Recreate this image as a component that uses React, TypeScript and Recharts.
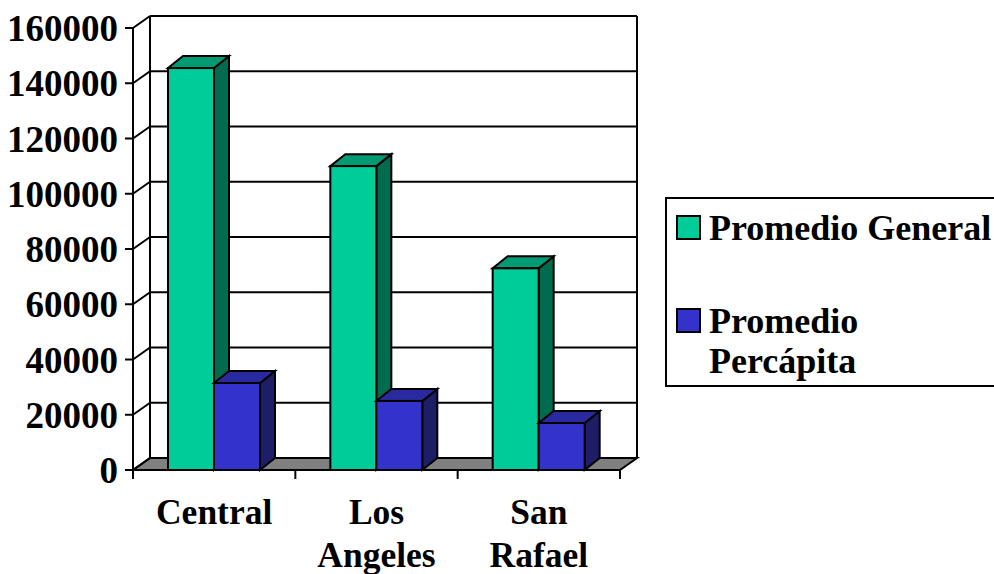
import React from 'react';
import { BarChart, Bar, XAxis, YAxis, CartesianGrid, Legend } from 'recharts';

const sedes = ['Central', 'Los Angeles', 'San Rafael'];
const promedioGeneral = [145500, 110000, 73000];
const promedioPercapita = [31500, 25000, 17000];
const yTicks = [0, 20000, 40000, 60000, 80000, 100000, 120000, 140000, 160000];

const data = sedes.map((sede, i) => ({
  sede,
  general: promedioGeneral[i],
  percapita: promedioPercapita[i],
}));

const FONT = '"Liberation Serif", "Times New Roman", serif';

// depth of the walls/floor and of each bar
const WALL_DX = 17;
const WALL_DY = 12;
const BAR_DX = 15;
const BAR_DY = 12;

const GREEN = { front: '#00CC99', top: '#009A73', side: '#006B4F' };
const BLUE = { front: '#3333CC', top: '#2A2AA0', side: '#1E1E66' };

let floorY = 0;

const box3D = (c: { front: string; top: string; side: string }) => (props: any) => {
  const { x, y, width: w, height: h } = props;
  if (w == null || h == null) return null;
  return (
    <g stroke="#000" strokeWidth={2} strokeLinejoin="miter">
      <polygon
        points={`${x + w},${y} ${x + w + BAR_DX},${y - BAR_DY} ${x + w + BAR_DX},${y + h - BAR_DY} ${x + w},${y + h}`}
        fill={c.side}
      />
      <polygon
        points={`${x},${y} ${x + BAR_DX},${y - BAR_DY} ${x + w + BAR_DX},${y - BAR_DY} ${x + w},${y}`}
        fill={c.top}
      />
      <rect x={x} y={y} width={w} height={h} fill={c.front} />
    </g>
  );
};

// each horizontal grid line becomes a left-wall diagonal plus a back-wall line;
// the bottom one also draws the floor, the top one the back wall edges
const wallLine = (props: any) => {
  const { x1, y1, x2, index, y, height } = props;
  const bottom = typeof height === 'number' && typeof y === 'number' ? y + height : floorY;
  const top = typeof y === 'number' ? y : y1;
  const isFloor = Math.abs(y1 - bottom) < 1;
  const isTop = Math.abs(y1 - top) < 1;
  if (isFloor) floorY = y1;
  const ln = { stroke: '#000', strokeWidth: 2 };
  return (
    <g key={`wall-${index}`}>
      {isFloor && (
        <polygon
          points={`${x1},${y1} ${x2},${y1} ${x2 + WALL_DX},${y1 - WALL_DY} ${x1 + WALL_DX},${y1 - WALL_DY}`}
          fill="#808080"
          {...ln}
        />
      )}
      <line x1={x1} y1={y1} x2={x1 + WALL_DX} y2={y1 - WALL_DY} {...ln} />
      <line x1={x1 + WALL_DX} y1={y1 - WALL_DY} x2={x2 + WALL_DX} y2={y1 - WALL_DY} {...ln} />
      {isTop && (
        <>
          <line x1={x1 + WALL_DX} y1={y1 - WALL_DY} x2={x1 + WALL_DX} y2={bottom - WALL_DY} {...ln} />
          <line x1={x2 + WALL_DX} y1={y1 - WALL_DY} x2={x2 + WALL_DX} y2={bottom - WALL_DY} {...ln} />
        </>
      )}
    </g>
  );
};

const CategoryTick = (props: any) => {
  const { x, y, payload, width, visibleTicksCount, index } = props;
  const band = width / visibleTicksCount;
  const lines = String(payload.value).split(' ');
  const ln = { stroke: '#000', strokeWidth: 2 };
  return (
    <g>
      <line x1={x - band / 2} y1={y - 9} x2={x - band / 2} y2={y} {...ln} />
      {index === visibleTicksCount - 1 && <line x1={x + band / 2} y1={y - 9} x2={x + band / 2} y2={y} {...ln} />}
      <text x={x} y={y} textAnchor="middle" fontFamily={FONT} fontSize={35.5} fontWeight="bold" fill="#000">
        {lines.map((l, i) => (
          <tspan key={i} x={x} dy={i === 0 ? 45 : 43}>
            {l}
          </tspan>
        ))}
      </text>
    </g>
  );
};

const LegendBox = ({ payload }: any) => (
  <div
    style={{
      border: '2px solid #000',
      width: 340,
      height: 190,
      boxSizing: 'border-box',
      padding: '9px 0 0 9px',
      fontFamily: FONT,
      fontSize: 36,
      fontWeight: 'bold',
      lineHeight: '40px',
      background: '#fff',
      color: '#000',
    }}
  >
    {(payload || []).map((p: any, i: number) => (
      <div key={i} style={{ position: 'relative', paddingLeft: 33, marginTop: i ? 53 : 0, width: 288 }}>
        <span
          style={{
            position: 'absolute',
            left: 0,
            top: 7,
            width: 25,
            height: 25,
            boxSizing: 'border-box',
            border: '2px solid #000',
            background: p.color,
          }}
        />
        {p.value}
      </div>
    ))}
  </div>
);

export default function App() {
  return (
    <div>
      <style>{'body{margin:0;background:#fff}'}</style>
      <BarChart
        width={994}
        height={574}
        data={data}
        margin={{ top: 28, right: 374, left: 0, bottom: 0 }}
        barSize={46}
        barGap={0}
      >
        <CartesianGrid horizontal={wallLine} vertical={false} />
        <XAxis
          dataKey="sede"
          height={104}
          interval={0}
          tickLine={false}
          tickSize={9}
          tickMargin={0}
          axisLine={{ stroke: '#000', strokeWidth: 2 }}
          tick={<CategoryTick />}
        />
        <YAxis
          type="number"
          domain={[0, 160000]}
          ticks={yTicks}
          interval={0}
          width={133}
          tickSize={8}
          tickMargin={7}
          axisLine={{ stroke: '#000', strokeWidth: 2 }}
          tickLine={{ stroke: '#000', strokeWidth: 2 }}
          tick={{ fontSize: 37, fontWeight: 'bold', fontFamily: FONT, fill: '#000' }}
        />
        <Legend
          layout="horizontal"
          verticalAlign="middle"
          align="center"
          content={<LegendBox />}
          wrapperStyle={{ left: 665, top: 197, width: 340 }}
        />
        <Bar dataKey="general" name="Promedio General" fill={GREEN.front} shape={box3D(GREEN)} isAnimationActive={false} />
        <Bar dataKey="percapita" name="Promedio Percápita" fill={BLUE.front} shape={box3D(BLUE)} isAnimationActive={false} />
      </BarChart>
    </div>
  );
}
